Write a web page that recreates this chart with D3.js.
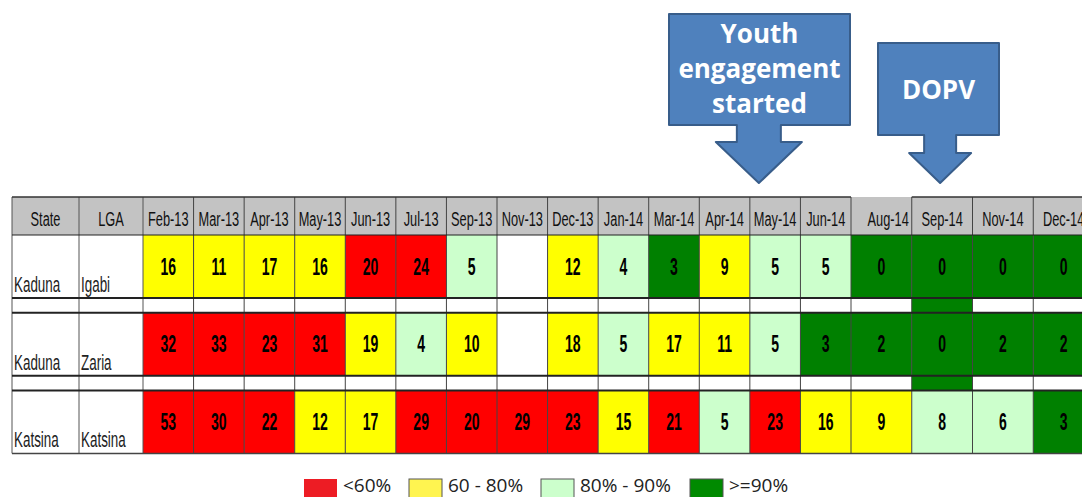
<!DOCTYPE html>
<html>
<head>
<meta charset="utf-8">
<script src="https://cdn.jsdelivr.net/npm/d3@7"></script>
<style>
  body { margin:0; background:#fff; }
  svg { display:block; }
  .narrow { font-family:'Liberation Sans',Arial,sans-serif; }
</style>
</head>
<body>
<div class="canvas"></div>
<script>
// data
const months = ["Feb-13","Mar-13","Apr-13","May-13","Jun-13","Jul-13","Sep-13","Nov-13","Dec-13","Jan-14","Mar-14","Apr-14","May-14","Jun-14","Aug-14","Sep-14","Nov-14","Dec-14"]
const states = ["Kaduna","Kaduna","Katsina"]
const lgas = ["Igabi","Zaria","Katsina"]
const igabi   = [16,11,17,16,20,24,5,null,12,4,3,9,5,5,0,0,0,0]
const zaria   = [32,33,23,31,19,4,10,null,18,5,17,11,5,3,2,0,2,2]
const katsina = [53,30,22,12,17,29,20,29,23,15,21,5,23,16,9,8,6,3]
// coverage band per cell: r <60%, y 60-80%, l 80-90%, g >=90%, "" no data
const igabiBand   = ["y","y","y","y","r","r","l","","y","l","g","y","l","l","g","g","g","g"]
const zariaBand   = ["r","r","r","r","y","l","y","","y","l","y","y","l","g","g","g","g","g"]
const katsinaBand = ["r","r","r","y","y","r","r","r","r","y","r","l","r","y","y","l","l","g"]
const legendLabels = ["<60%","60 - 80%","80% - 90%",">=90%"]
const callouts = [{text:["Youth","engagement","started"], month:"Apr-14"},{text:["DOPV"], month:"Sep-14"}]

const W = 1082, H = 497
const SX = 0.61   // horizontal squeeze, the table text is very condensed
const svg = d3.select(".canvas").append("svg").attr("width",W).attr("height",H)

const cellColor = d3.scaleOrdinal().domain(["r","y","l","g",""]).range(["#ff0000","#ffff00","#ccffcc","#008000","#ffffff"])
const legendColor = d3.scaleOrdinal().domain(legendLabels).range(["#ed1c24","#fff450","#ccffcc","#008a00"])

// two column groups: 14 narrower month columns and 4 wider ones
const xA = d3.scaleBand().domain(months.slice(0,14)).range([143,851])
const xB = d3.scaleBand().domain(months.slice(14)).range([851,1094])
const x = m => xA.domain().includes(m) ? xA(m) : xB(m)
const bw = m => xA.domain().includes(m) ? xA.bandwidth() : xB.bandwidth()

const headTop = 197, headBot = 235
const rowStep = 77.7, rowH = 63, gapH = rowStep - rowH
const y = i => headBot + i*rowStep

const rows = [
  {state:states[0], lga:lgas[0], vals:igabi, band:igabiBand},
  {state:states[1], lga:lgas[1], vals:zaria, band:zariaBand},
  {state:states[2], lga:lgas[2], vals:katsina, band:katsinaBand}
]

const table = svg.append("g")

// header
table.append("rect").attr("x",12).attr("y",headTop).attr("width",W).attr("height",headBot-headTop).attr("fill","#c3c3c3")
const headCols = [{name:"State",x:12,w:67},{name:"LGA",x:79,w:64}].concat(months.map(m=>({name:m,x:x(m),w:bw(m)})))
table.selectAll("text.head").data(headCols).enter().append("text")
  .attr("class","head narrow")
  .attr("transform",d => `translate(${d.name=="Aug-14" ? d.x+d.w-3 : d.x+d.w/2},226) scale(${SX},1)`)
  .attr("text-anchor",d => d.name=="Aug-14" ? "end" : "middle")
  .attr("font-size",21).attr("fill","#111")
  .text(d=>d.name)

// data rows
rows.forEach((r,i)=>{
  const g = table.append("g")
  g.append("rect").attr("x",12).attr("y",y(i)).attr("width",131).attr("height",rowH).attr("fill","#fff")
  g.selectAll("rect.cell").data(months).enter().append("rect")
    .attr("class","cell")
    .attr("x",m=>x(m)).attr("y",y(i)).attr("width",m=>bw(m)).attr("height",rowH)
    .attr("fill",(m,j)=>cellColor(r.band[j]))
  g.selectAll("text.val").data(months).enter().append("text")
    .attr("class","val narrow")
    .attr("transform",m=>`translate(${x(m)+bw(m)/2},${y(i)+rowH/2+8}) scale(${SX},1)`)
    .attr("text-anchor","middle").attr("font-size",23).attr("font-weight","bold").attr("fill","#000")
    .text((m,j)=> r.vals[j]==null ? "" : r.vals[j])
  g.append("text").attr("class","narrow").attr("transform",`translate(14,${y(i)+rowH-6}) scale(${SX},1)`)
    .attr("font-size",22).attr("fill","#222").text(r.state)
  g.append("text").attr("class","narrow").attr("transform",`translate(81,${y(i)+rowH-6}) scale(${SX},1)`)
    .attr("font-size",22).attr("fill","#222").text(r.lga)
  // spacer row below (except after last)
  if(i<rows.length-1){
    g.selectAll("rect.gap").data(months).enter().append("rect")
      .attr("x",m=>x(m)).attr("y",y(i)+rowH).attr("width",m=>bw(m)).attr("height",gapH)
      .attr("fill",m=> m=="Sep-14" ? cellColor("g") : "#fff")
  }
})

// grid lines
const vx = [12,79,143].concat(months.map(m=>x(m)+bw(m)))
const bottom = y(2)+rowH
table.selectAll("line.v").data(vx).enter().append("line")
  .attr("x1",d=>d).attr("x2",d=>d).attr("y1",headTop).attr("y2",bottom)
  .attr("stroke",(d,i)=> i<3 ? "#555" : "#444").attr("stroke-width",1)
const hy = [headBot]
rows.forEach((r,i)=>{ if(i<rows.length-1){ hy.push(y(i)+rowH); hy.push(y(i+1)) } })
table.selectAll("line.h").data(hy).enter().append("line")
  .attr("x1",12).attr("x2",W).attr("y1",d=>d).attr("y2",d=>d)
  .attr("stroke","#222").attr("stroke-width",(d,i)=> i==0 ? 1.2 : 2)
table.append("line").attr("x1",12).attr("x2",x("Aug-14")).attr("y1",headTop).attr("y2",headTop).attr("stroke","#333").attr("stroke-width",1.5)
table.append("line").attr("x1",x("Sep-14")).attr("x2",W).attr("y1",headTop).attr("y2",headTop).attr("stroke","#333").attr("stroke-width",1.5)
table.append("line").attr("x1",12).attr("x2",W).attr("y1",bottom).attr("y2",bottom).attr("stroke","#444").attr("stroke-width",1.5)

// callout arrows
const calloutBoxes = [{x0:669,x1:850,y0:14,y1:125,shaft:22,head:43,neck:142,dx:9},{x0:878,x1:999,y0:43,y1:135,shaft:16,head:31,neck:153,dx:-2}]
callouts.forEach((c,k)=>{
  const b = calloutBoxes[k]
  const cx = k==0 ? x(c.month)+bw(c.month)+b.dx : x(c.month)+bw(c.month)/2+b.dx
  const tip = 183
  const pts = [[b.x0,b.y0],[b.x1,b.y0],[b.x1,b.y1],[cx+b.shaft,b.y1],[cx+b.shaft,b.neck],[cx+b.head,b.neck],[cx,tip],
               [cx-b.head,b.neck],[cx-b.shaft,b.neck],[cx-b.shaft,b.y1],[b.x0,b.y1]]
  svg.append("path").attr("d",d3.line()(pts)+"Z")
    .attr("fill","#4f81bd").attr("stroke","#385d8a").attr("stroke-width",2).attr("stroke-linejoin","round")
  const midX = (b.x0+b.x1)/2
  const lineY = c.text.length>1 ? [43,78,113] : [99]
  svg.selectAll(null).data(c.text).enter().append("text")
    .attr("x",midX).attr("y",(d,i)=>lineY[i])
    .attr("text-anchor","middle").attr("font-family","'Open Sans',sans-serif")
    .attr("font-weight","bold").attr("font-size",26).attr("fill","#fff")
    .text(d=>d)
})

// legend
const legX = [304,409,541,690]
const leg = svg.append("g")
leg.selectAll("rect").data(legendLabels).enter().append("rect")
  .attr("x",(d,i)=>legX[i]).attr("y",479).attr("width",33).attr("height",19)
  .attr("fill",d=>legendColor(d)).attr("stroke",(d,i)=> i==0 ? "none" : "#555").attr("stroke-width",1)
leg.selectAll("text").data(legendLabels).enter().append("text")
  .attr("x",(d,i)=>legX[i]+39).attr("y",492)
  .attr("font-family","'Open Sans',sans-serif").attr("font-size",19).attr("fill","#222")
  .text(d=>d)
</script>
</body>
</html>
